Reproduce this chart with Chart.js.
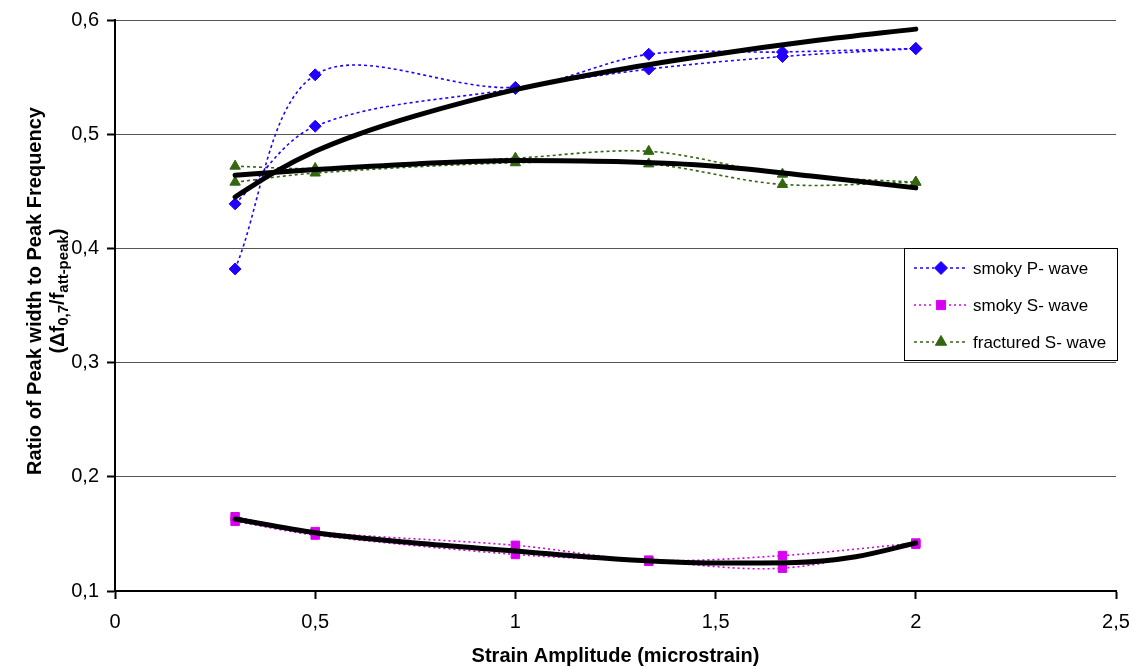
<!DOCTYPE html>
<html><head><meta charset="utf-8">
<script src="https://cdn.jsdelivr.net/npm/chart.js@4.4.0/dist/chart.umd.min.js"></script>
<style>html,body{margin:0;padding:0;background:#fff;} #wrap{width:1136px;height:668px;position:relative;}</style>
</head><body><div id="wrap"><canvas id="c" width="1136" height="668"></canvas></div>
<script>
// ---- data ----
const strainX = [0.3, 0.5, 1, 1.333, 1.667, 2];
const smokyP_a = [0.382, 0.552, 0.541, 0.570, 0.572, 0.575];
const smokyP_b = [0.439, 0.507, 0.540, 0.557, 0.568, 0.575];
const smokyS_a = [0.165, 0.152, 0.140, 0.127, 0.131, 0.142];
const smokyS_b = [0.161, 0.149, 0.132, 0.126, 0.120, 0.141];
const fracS_a = [0.472, 0.470, 0.479, 0.485, 0.465, 0.458];
const fracS_b = [0.458, 0.466, 0.475, 0.474, 0.456, 0.458];
const trendP_x = [0.3, 0.4, 0.5, 0.6, 0.75, 1, 1.25, 1.5, 1.75, 2];
const trendP_y = [0.445, 0.467, 0.485, 0.499, 0.516, 0.539, 0.556, 0.570, 0.582, 0.592];
const trendF_x = [0.3, 0.5, 0.75, 1, 1.25, 1.5, 1.75, 2];
const trendF_y = [0.464, 0.469, 0.474, 0.477, 0.476, 0.472, 0.463, 0.453];
const trendS_x = [0.3, 0.5, 0.75, 1, 1.25, 1.5, 1.7, 1.85, 2];
const trendS_y = [0.163, 0.151, 0.142, 0.135, 0.128, 0.1245, 0.125, 0.130, 0.142];
const xTickLabels = ['0', '0,5', '1', '1,5', '2', '2,5'];
const yTickLabels = ['0,1', '0,2', '0,3', '0,4', '0,5', '0,6'];
const legendLabels = ['smoky P- wave', 'smoky S- wave', 'fractured S- wave'];
const xTitle = 'Strain Amplitude (microstrain)';
const yTitle1 = 'Ratio of Peak width to Peak Frequency';

const FONT = "'Liberation Sans', Arial, sans-serif";
const BLUE = '#2200ff', MAG = '#d800f0', GREEN = '#336611';

function pts(xs, ys) { return xs.map((x, i) => ({x: x, y: ys[i]})); }

function series(ys, color, style, radius, dash) {
  return {
    data: pts(strainX, ys), showLine: true, order: 1,
    borderColor: color, backgroundColor: color, borderWidth: 1.6, borderDash: dash,
    tension: 0.33, pointStyle: style, pointRadius: radius, pointBorderWidth: 1,
    pointBorderColor: color, pointBackgroundColor: color
  };
}
function trend(xs, ys) {
  return {
    data: pts(xs, ys), showLine: true, order: 0, borderColor: '#000', borderWidth: 5,
    cubicInterpolationMode: 'monotone', pointRadius: 0, borderCapStyle: 'round', fill: false
  };
}

const legendItems = [
  {color: BLUE, style: 'rectRot', r: 6.5, dash: [3, 3]},
  {color: MAG, style: 'rect', r: 6.5, dash: [2, 3]},
  {color: GREEN, style: 'triangle', r: 6.5, dash: [3, 3]}
];

const legendPlugin = {
  id: 'customLegend',
  afterDraw(chart) {
    const ctx = chart.ctx;
    ctx.save();
    const bx = 904.5, by = 248.5, bw = 213, bh = 112;
    ctx.fillStyle = '#fff';
    ctx.fillRect(bx, by, bw, bh);
    ctx.strokeStyle = '#000'; ctx.lineWidth = 1;
    ctx.strokeRect(bx, by, bw, bh);
    const rows = [268, 305, 342];
    legendItems.forEach((it, i) => {
      const y = rows[i];
      ctx.save();
      ctx.strokeStyle = it.color; ctx.lineWidth = 1.6; ctx.setLineDash(it.dash);
      ctx.beginPath(); ctx.moveTo(914, y); ctx.lineTo(968, y); ctx.stroke();
      ctx.restore();
      ctx.fillStyle = '#fff';
      ctx.fillRect(934, y - 7, 14, 14);
      ctx.fillStyle = it.color; ctx.strokeStyle = it.color; ctx.lineWidth = 1;
      Chart.helpers.drawPoint(ctx, {pointStyle: it.style, radius: it.r, rotation: 0, borderWidth: 1}, 941, y);
      ctx.fillStyle = '#000';
      ctx.font = '17px ' + FONT;
      ctx.textBaseline = 'middle'; ctx.textAlign = 'left';
      ctx.fillText(legendLabels[i], 973, y + 1);
    });
    ctx.restore();
  }
};

const yTitlePlugin = {
  id: 'yTitle',
  afterDraw(chart) {
    const ctx = chart.ctx;
    const cy = 291;
    ctx.save();
    ctx.fillStyle = '#000';
    // line 1
    ctx.save();
    ctx.translate(41, cy); ctx.rotate(-Math.PI / 2);
    ctx.font = 'bold 20px ' + FONT; ctx.textAlign = 'center'; ctx.textBaseline = 'alphabetic';
    ctx.fillText(yTitle1, 0, 0);
    ctx.restore();
    // line 2 with subscripts
    const parts = [
      {t: '(\u0394f', sub: false}, {t: '0,7', sub: true}, {t: '/f', sub: false},
      {t: 'att-peak', sub: true}, {t: ')', sub: false}
    ];
    ctx.save();
    ctx.translate(64, cy); ctx.rotate(-Math.PI / 2);
    ctx.textBaseline = 'alphabetic'; ctx.textAlign = 'left';
    let total = 0;
    parts.forEach(p => { ctx.font = (p.sub ? 'bold 15px ' : 'bold 20px ') + FONT; p.w = ctx.measureText(p.t).width; total += p.w; });
    let x = -total / 2;
    parts.forEach(p => {
      ctx.font = (p.sub ? 'bold 15px ' : 'bold 20px ') + FONT;
      ctx.fillText(p.t, x, p.sub ? 4 : 0);
      x += p.w;
    });
    ctx.restore();
    ctx.restore();
  }
};

new Chart(document.getElementById('c'), {
  type: 'scatter',
  data: {
    datasets: [
      series(smokyP_a, BLUE, 'rectRot', 6, [3, 3]),
      series(smokyP_b, BLUE, 'rectRot', 6, [3, 3]),
      series(smokyS_a, MAG, 'rect', 6, [2, 3]),
      series(smokyS_b, MAG, 'rect', 6, [2, 3]),
      series(fracS_a, GREEN, 'triangle', 6, [3, 3]),
      series(fracS_b, GREEN, 'triangle', 6, [3, 3]),
      trend(trendP_x, trendP_y),
      trend(trendF_x, trendF_y),
      trend(trendS_x, trendS_y)
    ]
  },
  options: {
    responsive: false, animation: false, devicePixelRatio: 1,
    layout: {padding: {left: 0, top: 19, right: 20, bottom: 0}},
    plugins: {legend: {display: false}, tooltip: {enabled: false}},
    scales: {
      x: {
        type: 'linear', min: 0, max: 2.5,
        ticks: {stepSize: 0.5, color: '#000', font: {family: FONT, size: 20}, padding: 11,
          callback: (v, i) => xTickLabels[i]},
        grid: {drawOnChartArea: false, tickLength: 8, tickColor: '#000', tickWidth: 2},
        border: {color: '#000', width: 2},
        title: {display: true, text: xTitle, color: '#000', font: {family: FONT, size: 20, weight: 'bold'}, padding: {top: 4, bottom: 0}},
        afterFit: s => { s.height = 77; s.paddingRight = 0; s.paddingLeft = 0; }
      },
      y: {
        type: 'linear', min: 0.1, max: 0.6,
        ticks: {stepSize: 0.1, color: '#000', font: {family: FONT, size: 20}, padding: 8,
          callback: (v, i) => yTickLabels[i]},
        grid: {color: '#555', lineWidth: 1, tickLength: 8, tickColor: '#000', tickWidth: 2},
        border: {color: '#000', width: 2},
        afterFit: s => { s.width = 115; }
      }
    }
  },
  plugins: [legendPlugin, yTitlePlugin]
});
</script></body></html>
